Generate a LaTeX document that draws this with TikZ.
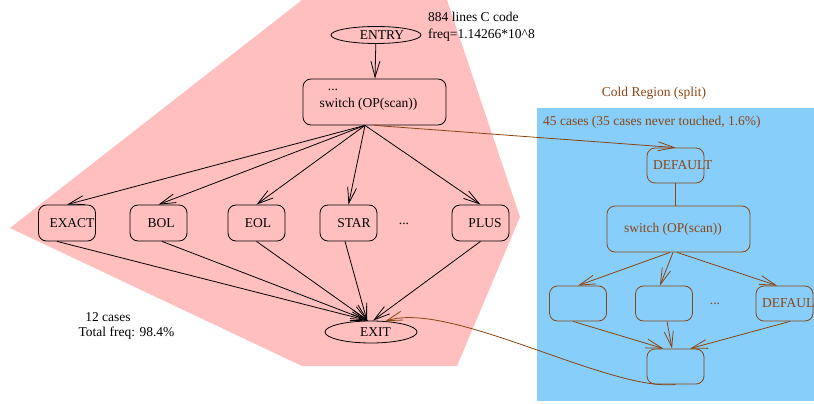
\documentclass[tikz,border=0pt]{standalone}
\usepackage{fontspec}
\setmainfont{Liberation Serif}
\usetikzlibrary{arrows.meta,shapes.geometric}
\definecolor{hotpink}{RGB}{255,191,191}
\definecolor{coldblue}{RGB}{135,206,250}
\definecolor{coldc}{RGB}{139,69,19}
\begin{document}
\begin{tikzpicture}[x=1pt,y=-1pt,
  every node/.style={font=\fontsize{13.5}{16}\selectfont},
  hbox/.style={draw, rounded corners=8pt, line width=0.8pt, minimum width=57pt, minimum height=36pt, inner sep=0pt},
  cbox/.style={hbox, draw=coldc, text=coldc, minimum height=35pt},
  oval/.style={draw, ellipse, line width=0.8pt, inner sep=0pt},
  harrow/.style={line width=0.8pt, -{Straight Barb[length=16pt,width=9pt]}},
  carrow/.style={harrow, draw=coldc},
  txt/.style={inner sep=0pt}]
\useasboundingbox (0,0) rectangle (814,404);
% regions
\fill[hotpink] (302,0) -- (447,0) -- (520,217) -- (457,366) -- (302,366) -- (10,228) -- cycle;
\fill[coldblue] (537,108) rectangle (814,401);
% hot nodes
\node[oval, minimum width=90pt, minimum height=17pt] (entry) at (376,35) {\hspace*{12pt}ENTRY};
\node[txt, anchor=west] (info1) at (428,17) {884 lines C code};
\node[txt, anchor=west] (info2) at (428,35) {freq=1.14266*10\textasciicircum 8};
\node[hbox, minimum width=143pt, minimum height=46pt, text height=11pt, text depth=0pt] (sw) at (374.5,102) {switch (OP(scan))\hspace*{12pt}};
\node[txt, anchor=base] (swdots) at (333,90) {...};
\node[hbox] (exact) at (67,223) {\hspace*{10pt}EXACT};
\node[hbox] (bol) at (158.5,223) {\hspace*{5pt}BOL};
\node[hbox] (eol) at (256.5,223) {\hspace*{3pt}EOL};
\node[hbox] (star) at (348.5,223) {\hspace*{11pt}STAR};
\node[txt, anchor=base] (rowdots) at (404,224) {...};
\node[hbox] (plus) at (480.5,223) {\hspace*{9pt}PLUS};
\node[oval, minimum width=92pt, minimum height=22pt] (exit) at (371,332) {\hspace*{9pt}EXIT};
\node[txt] (cases) at (108,317) {12 cases};
\node[txt] (tfreq) at (126.5,333) {Total freq: 98.4\%};
% cold nodes
\node[txt, text=coldc] (coldtitle) at (654,93) {Cold Region (split)};
\node[txt, text=coldc, anchor=west] (coldcases) at (543,122) {45 cases (35 cases never touched, 1.6\%)};
\node[cbox] (def) at (675.5,165.5) {\makebox[45pt][l]{DEFAULT}};
\node[cbox, minimum width=143pt, minimum height=46pt] (sw2) at (678.5,229) {switch (OP(scan))\hspace*{11pt}};
\node[cbox] (ca) at (578,303.5) {};
\node[cbox] (cb) at (664,303.5) {};
\node[txt, text=coldc, anchor=base] (cdots) at (715,304) {...};
\node[cbox] (cc) at (784.5,303.5) {\makebox[45pt][l]{DEFAUL}};
\node[cbox] (cd) at (675.5,366.5) {};
% hot edges
\draw[harrow] (entry) -- (sw);
\foreach \n in {exact,bol,eol,star,plus}
  \draw[harrow] ([xshift=-9.5pt]sw.south) -- (\n.north);
\draw[harrow] ([xshift=-10pt]exact.south) -- ([xshift=-3pt]exit.north);
\draw[harrow] ([xshift=3.5pt]bol.south) -- ([xshift=-3pt]exit.north);
\draw[harrow] (eol.south) -- ([xshift=-3pt]exit.north);
\draw[harrow] ([xshift=-3.5pt]star.south) -- ([xshift=-4pt]exit.north);
\draw[harrow] (plus.south) -- ([xshift=2pt]exit.north);
% cold edges
\draw[carrow] (sw.south) -- (def.north);
\draw[coldc, line width=0.8pt] (def.south) -- (def.south |- sw2.north);
\draw[carrow] ([xshift=-8.5pt]sw2.south) -- (ca.north);
\draw[carrow] ([xshift=-5.5pt]sw2.south) -- ([xshift=-4pt]cb.north);
\draw[carrow] ([xshift=-1.5pt]sw2.south) -- ([xshift=-7.5pt]cc.north);
\draw[carrow] ([xshift=-5pt]ca.south) -- ([xshift=-12pt]cd.north);
\draw[carrow] ([xshift=3pt]cb.south) -- ([xshift=-3.5pt]cd.north);
\draw[carrow] ([xshift=5.5pt]cc.south) -- ([xshift=14.5pt]cd.north);
\draw[carrow] (cd.south) .. controls (610,392) and (450,300) .. (exit.37);
\end{tikzpicture}
\end{document}
